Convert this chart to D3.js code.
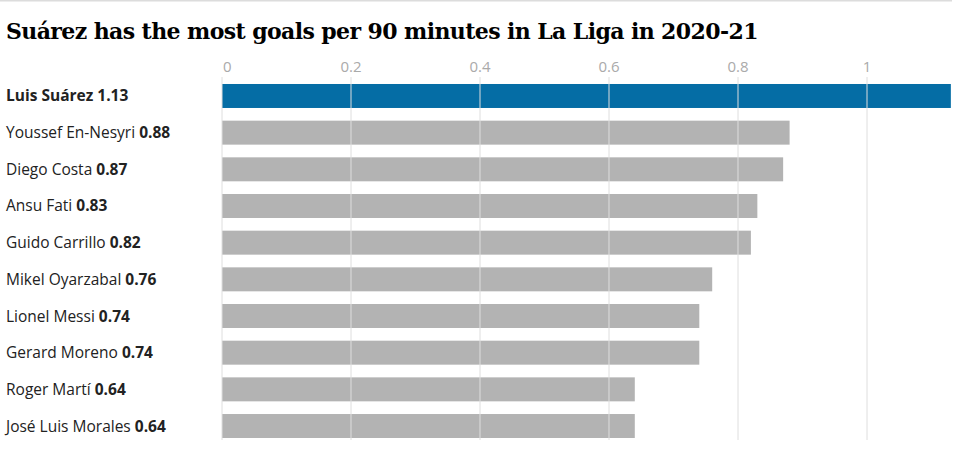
<!DOCTYPE html>
<html>
<head>
<meta charset="utf-8">
<script src="https://cdn.jsdelivr.net/npm/d3@7"></script>
<style>
  body { margin: 0; background: #fff; }
  text { font-family: "Open Sans", "DejaVu Sans", sans-serif; }
</style>
</head>
<body>
<div id="chart"></div>
<script>
// Data
var players = ["Luis Suárez", "Youssef En-Nesyri", "Diego Costa", "Ansu Fati", "Guido Carrillo",
    "Mikel Oyarzabal", "Lionel Messi", "Gerard Moreno", "Roger Martí", "José Luis Morales"];
var goalsPer90 = [1.13, 0.88, 0.87, 0.83, 0.82, 0.76, 0.74, 0.74, 0.64, 0.64];
var tickValues = [0, 0.2, 0.4, 0.6, 0.8, 1];

var data = players.map(function (p, i) { return { name: p, value: goalsPer90[i] }; });

var width = 960, height = 458;
var svg = d3.select("#chart").append("svg")
    .attr("width", width)
    .attr("height", height);

// top rule
svg.append("line")
    .attr("x1", 0).attr("x2", 952)
    .attr("y1", 0.5).attr("y2", 0.5)
    .attr("stroke", "#dcdcdc").attr("stroke-width", 2);

// title
svg.append("text")
    .attr("x", 6).attr("y", 39)
    .attr("font-family", "'DejaVu Serif', serif")
    .attr("font-weight", "bold")
    .attr("font-size", "22px")
    .attr("letter-spacing", "-0.6px")
    .style("font-family", "'DejaVu Serif', serif")
    .text("Suárez has the most goals per 90 minutes in La Liga in 2020-21");

// scales
var x = d3.scaleLinear().domain([0, 1]).range([222, 867]);
var y = d3.scaleBand()
    .domain(players)
    .range([84 - 6.35, 438 + 6.35])
    .paddingInner(0.346)
    .paddingOuter(0.173);

// bars
svg.selectAll(".bar")
    .data(data)
    .enter().append("rect")
    .attr("class", "bar")
    .attr("x", x(0))
    .attr("y", function (d) { return y(d.name); })
    .attr("width", function (d) { return x(d.value) - x(0); })
    .attr("height", y.bandwidth())
    .attr("fill", function (d, i) { return i === 0 ? "#056da5" : "#b3b3b3"; });

// grid lines (drawn over bars)
svg.selectAll(".grid")
    .data(tickValues)
    .enter().append("line")
    .attr("class", "grid")
    .attr("x1", function (d) { return x(d); })
    .attr("x2", function (d) { return x(d); })
    .attr("y1", 77).attr("y2", 440)
    .attr("stroke", "#dedede").attr("stroke-width", 1);

// tick labels
svg.selectAll(".tick-label")
    .data(tickValues)
    .enter().append("text")
    .attr("class", "tick-label")
    .attr("x", function (d) { return d === 0 ? x(d) + 1 : x(d); })
    .attr("y", 72)
    .attr("text-anchor", function (d) { return d === 0 ? "start" : "middle"; })
    .attr("font-size", "15px")
    .attr("fill", "#aaa")
    .text(function (d) { return d3.format("")(d); });

// row labels
var labels = svg.selectAll(".label")
    .data(data)
    .enter().append("text")
    .attr("class", "label")
    .attr("x", 6)
    .attr("y", function (d) { return y(d.name) + y.bandwidth() / 2 + 5.5; })
    .attr("font-size", "15.5px")
    .attr("fill", "#222");

labels.append("tspan")
    .attr("font-weight", function (d, i) { return i === 0 ? "bold" : "normal"; })
    .text(function (d) { return d.name + " "; });

labels.append("tspan")
    .attr("font-weight", "bold")
    .text(function (d) { return d3.format(".2f")(d.value); });
</script>
</body>
</html>
